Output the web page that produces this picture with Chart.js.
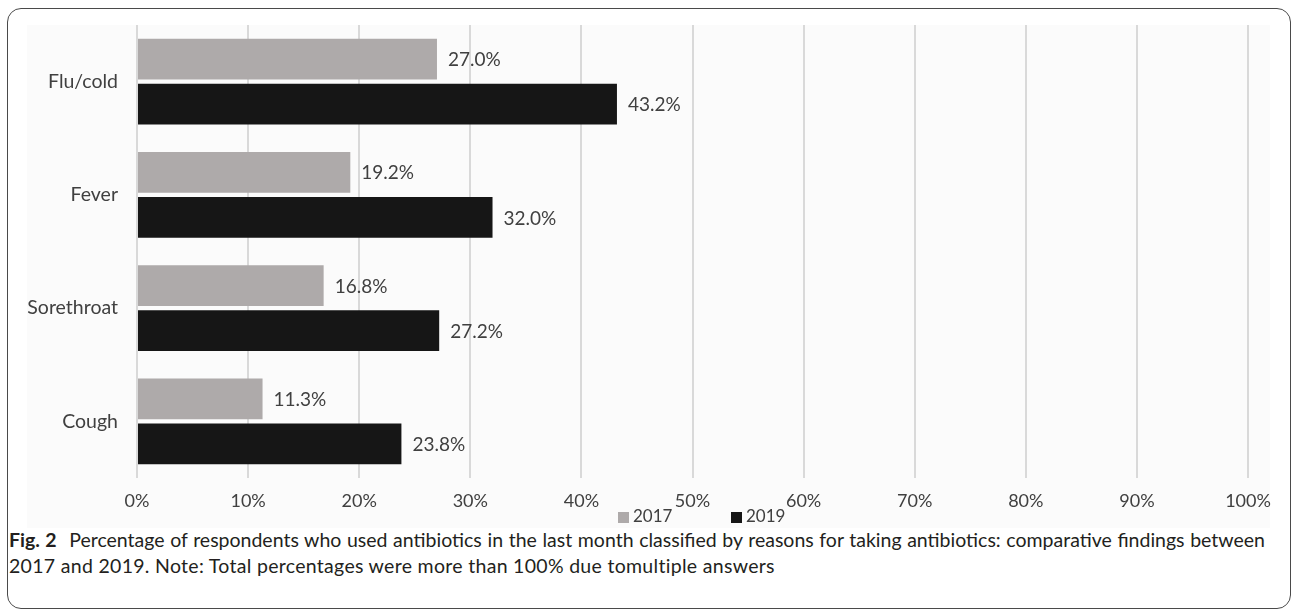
<!DOCTYPE html>
<html lang="en">
<head>
    <meta charset="UTF-8">
    <title>Antibiotic use by reason</title>
    <style>
        body { margin: 0; width: 1292px; height: 611px; background: #fff; position: relative; overflow: hidden; }
        .frame { position: absolute; left: 7px; top: 8px; width: 1282px; height: 599px; border: 1.5px solid #4a4a4a; border-radius: 14px; }
        .plot-bg { position: absolute; left: 27px; top: 25px; width: 1243px; height: 503px; background: #fbfbfb; }
        #chartWrap { position: absolute; left: 27px; top: 25px; width: 1250px; height: 483px; }
        .legend { position: absolute; top: 505px; left: 0; font: 17px Lato, sans-serif; color: #404040; }
        .legend span { position: absolute; white-space: nowrap; line-height: 22px; }
        .legend i { display: inline-block; width: 11px; height: 11px; margin-right: 4px; vertical-align: -1px; }
        .caption { position: absolute; left: 9px; top: 527px; width: 1256px; font: 19.5px Lato, sans-serif; line-height: 26px; color: #231f20; }
        .caption .first { text-align: justify; text-align-last: justify; white-space: nowrap; }
        .caption .second { letter-spacing: 0.3px; }
        .caption b { margin-right: 7px; }
    </style>
</head>
<body>
    <div class="frame"></div>
    <div class="plot-bg"></div>
    <div id="chartWrap"><canvas id="chart"></canvas></div>
    <div class="legend" id="legend"></div>
    <div class="caption">
        <div class="first"><b>Fig. 2</b> Percentage of respondents who used antibiotics in the last month classified by reasons for taking antibiotics: comparative findings between</div>
        <div class="second">2017 and 2019. Note: Total percentages were more than 100% due tomultiple answers</div>
    </div>

    <script src="https://cdn.jsdelivr.net/npm/chart.js@4/dist/chart.umd.min.js"></script>
    <script>
        const reasons = ['Flu/cold', 'Fever', 'Sorethroat', 'Cough']
        const pct2017 = [27.0, 19.2, 16.8, 11.3]
        const pct2019 = [43.2, 32.0, 27.2, 23.8]
        const xTicks = [0, 10, 20, 30, 40, 50, 60, 70, 80, 90, 100]

        const family = 'Lato, sans-serif'
        const textColor = '#404040'

        // keep scales from reserving room for half-labels; the layout padding handles it
        function noScalePadding(scale){
            scale.paddingTop = 0
            scale.paddingBottom = 0
            scale.paddingLeft = 0
            scale.paddingRight = 0
        }

        // value labels just past the end of each bar
        const barValues = {
            id: 'barValues',
            afterDatasetsDraw(chart){
                const ctx = chart.ctx
                ctx.save()
                ctx.font = `19px ${family}`
                ctx.fillStyle = textColor
                ctx.textBaseline = 'middle'
                chart.data.datasets.forEach((ds, i) => {
                    chart.getDatasetMeta(i).data.forEach((bar, j) => {
                        ctx.fillText(ds.data[j].toFixed(1) + '%', bar.x + 11, bar.y + 1)
                    })
                })
                ctx.restore()
            }
        }

        const chart = new Chart(document.getElementById('chart'), {
            type: 'bar',
            data: {
                labels: reasons,
                datasets: [
                    { label: '2017', data: pct2017, backgroundColor: '#aeaaaa' },
                    { label: '2019', data: pct2019, backgroundColor: '#161616' }
                ]
            },
            options: {
                indexAxis: 'y',
                responsive: true,
                maintainAspectRatio: false,
                animation: false,
                categoryPercentage: 0.795,
                barPercentage: 0.91,
                layout: { padding: { top: 0, right: 29, bottom: 0, left: 0 } },
                plugins: {
                    legend: { display: false },
                    tooltip: { enabled: false }
                },
                scales: {
                    x: {
                        min: 0,
                        max: 100,
                        afterFit(scale){ scale.height = 30; noScalePadding(scale) },
                        afterBuildTicks(scale){ scale.ticks = xTicks.map(v => ({ value: v })) },
                        grid: { color: '#d9d9d9', lineWidth: 2, drawTicks: false },
                        border: { display: false },
                        ticks: {
                            padding: 12,
                            font: { family, size: 18 },
                            color: textColor,
                            callback: v => v + '%'
                        }
                    },
                    y: {
                        afterFit(scale){ scale.width = 110; noScalePadding(scale) },
                        grid: { display: false, drawTicks: false },
                        border: { display: false },
                        ticks: { padding: 19, font: { family, size: 19.5 }, color: textColor }
                    }
                }
            },
            plugins: [barValues]
        })

        // legend under the axis, built from the datasets
        const legendPos = [618, 731]
        const legend = document.getElementById('legend')
        chart.data.datasets.forEach((ds, i) => {
            const item = document.createElement('span')
            item.style.left = legendPos[i] + 'px'
            item.innerHTML = `<i style="background:${ds.backgroundColor}"></i>${ds.label}`
            legend.appendChild(item)
        })
    </script>
</body>
</html>
